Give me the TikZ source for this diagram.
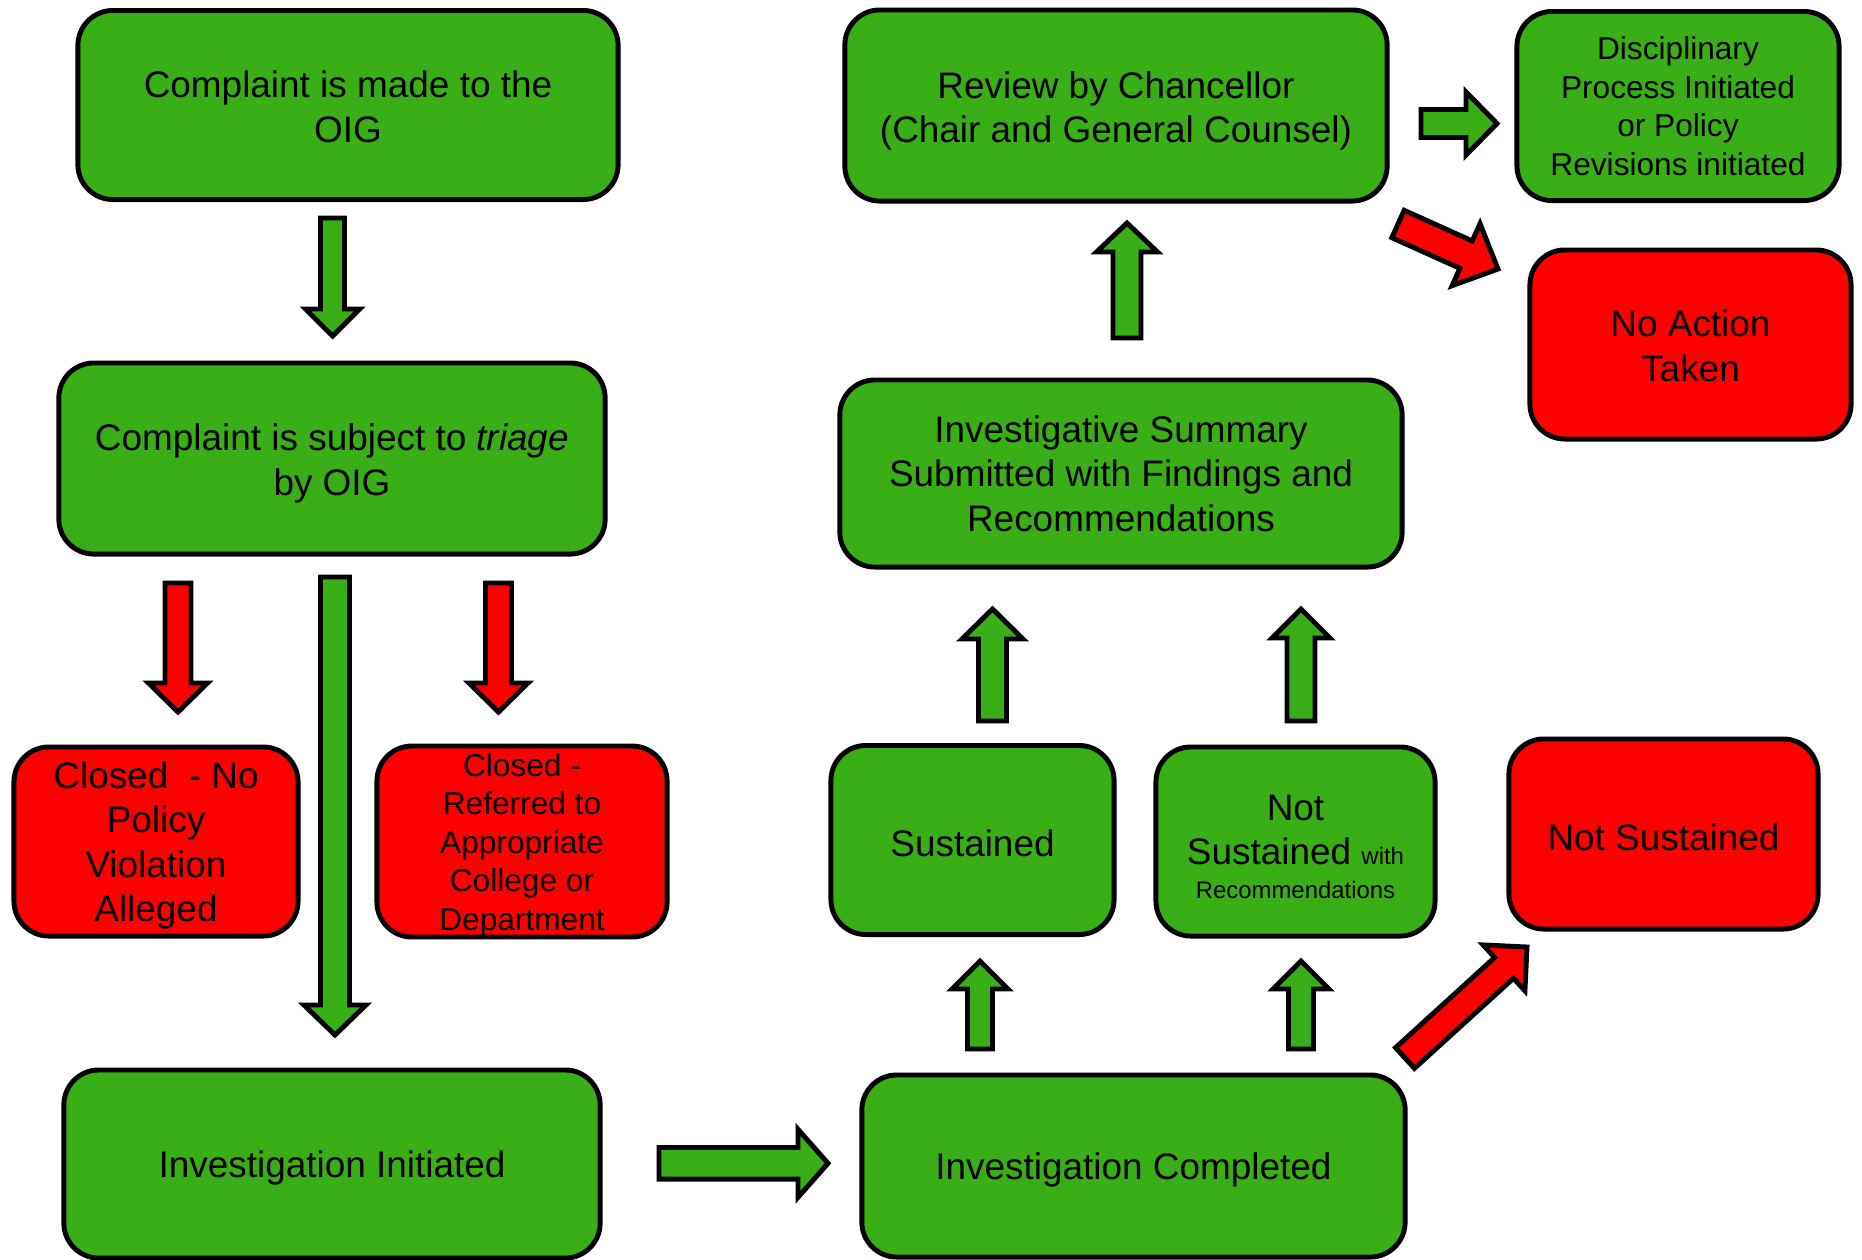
\documentclass[tikz,border=0pt]{standalone}
\usepackage{fontspec}
\setmainfont{Liberation Sans}
\usetikzlibrary{calc}
\definecolor{ogreen}{RGB}{58,174,22}
\definecolor{ored}{RGB}{255,0,0}
\newcommand\fm{\fontsize{10.5pt}{12.66pt}\selectfont}
\newcommand\fsm{\fontsize{9pt}{10.96pt}\selectfont}
\newcommand\ftn{\fontsize{6.8pt}{8.2pt}\selectfont}
\newcommand\topstrut[1]{\rule{0pt}{#1}}
% #1 style, #2 tail, #3 tip, #4 half shaft, #5 half head, #6 head length
\newcommand\blockarrow[6]{%
  \coordinate (hb) at ($(#3)!#6!(#2)$);
  \draw[#1] ($(#2)!#4!90:(#3)$) -- ($(hb)!#4!90:(#3)$) -- ($(hb)!#5!90:(#3)$) -- (#3)
    -- ($(hb)!#5!-90:(#3)$) -- ($(hb)!#4!-90:(#3)$) -- ($(#2)!#4!-90:(#3)$) -- cycle;
}
\tikzset{
  box/.style={draw=black, line width=1.4pt, rounded corners=0.35cm, align=center, inner sep=0pt, font=\fm,
    execute at begin node={\rule{0pt}{0.92em}}},
  gbox/.style={box, fill=ogreen},
  rbox/.style={box, fill=ored},
  garrow/.style={draw=black, fill=ogreen, line width=1.4pt},
  rarrow/.style={draw=black, fill=ored, line width=1.4pt},
}
\begin{document}
\begin{tikzpicture}[x=0.01cm, y=-0.01cm]
\useasboundingbox (0,0) rectangle (1862,1259);

\node[gbox, minimum width=5.40cm, minimum height=1.89cm] (n1) at (348,105) {\topstrut{8.7pt}Complaint is made to the\\OIG};
\node[gbox, minimum width=5.46cm, minimum height=1.91cm] (n2) at (332,458.5) {\topstrut{10.35pt}Complaint is subject to \textit{triage}\\by OIG};
\node[rbox, minimum width=2.84cm, minimum height=1.89cm] (r1) at (156,841.5) {\topstrut{9.8pt}Closed \ - No\\Policy\\Violation\\Alleged};
\node[rbox, minimum width=2.90cm, minimum height=1.89cm, font=\fsm] (r2) at (522,841.5) {\topstrut{8.6pt}Closed -\\Referred to\\Appropriate\\College or\\Department};
\node[gbox, minimum width=5.36cm, minimum height=1.88cm] (n3) at (332,1164) {Investigation Initiated};
\node[gbox, minimum width=5.43cm, minimum height=1.82cm] (n4) at (1133.5,1166) {Investigation Completed};
\node[gbox, minimum width=2.83cm, minimum height=1.89cm] (s1) at (972.5,840) {Sustained};
\node[gbox, minimum width=2.79cm, minimum height=1.89cm] (s2) at (1295.5,841.5) {\topstrut{10.2pt}Not\\Sustained {\ftn with}\\[-3pt]{\ftn Recommendations}};
\node[rbox, minimum width=3.09cm, minimum height=1.90cm] (r3) at (1663.5,834) {Not Sustained};
\node[gbox, minimum width=5.62cm, minimum height=1.87cm] (n5) at (1121,473.5) {Investigative Summary\\Submitted with Findings and\\Recommendations};
\node[gbox, minimum width=5.42cm, minimum height=1.91cm] (n6) at (1116,105.5) {\topstrut{10.7pt}Review by Chancellor\\(Chair and General Counsel)};
\node[gbox, minimum width=3.22cm, minimum height=1.89cm, font=\fsm] (n7) at (1678,106) {Disciplinary\\Process Initiated\\or Policy\\Revisions initiated};
\node[rbox, minimum width=3.21cm, minimum height=1.89cm] (r4) at (1690.5,344.5) {\topstrut{8.2pt}No Action\\Taken};

% arrow end points
\coordinate (a1t) at (332.5,218);  \coordinate (a1h) at (332.5,336);
\coordinate (a2t) at (178,583);    \coordinate (a2h) at (178,712);
\coordinate (a3t) at (335,577);    \coordinate (a3h) at (335,1035);
\coordinate (a4t) at (498.5,583);  \coordinate (a4h) at (498.5,712);
\coordinate (a5t) at (659,1163.3); \coordinate (a5h) at (828,1163.3);
\coordinate (a6t) at (980,1049);   \coordinate (a6h) at (980,961);
\coordinate (a7t) at (1301,1049);  \coordinate (a7h) at (1301,961);
\coordinate (a8t) at (992.5,721);  \coordinate (a8h) at (992.5,609);
\coordinate (a9t) at (1301,721);   \coordinate (a9h) at (1301,609);
\coordinate (a10t) at (1127,338);  \coordinate (a10h) at (1127,223);
\coordinate (a11t) at (1421,123.5);\coordinate (a11h) at (1497,123.5);
\coordinate (a12t) at (1398,224);  \coordinate (a12h) at (1498,269);
\coordinate (a13t) at (1405,1058); \coordinate (a13h) at (1527,947);

\blockarrow{garrow}{a1t}{a1h}{0.12cm}{0.27cm}{0.27cm}
\blockarrow{rarrow}{a2t}{a2h}{0.13cm}{0.295cm}{0.29cm}
\blockarrow{garrow}{a3t}{a3h}{0.145cm}{0.31cm}{0.30cm}
\blockarrow{rarrow}{a4t}{a4h}{0.13cm}{0.295cm}{0.29cm}
\blockarrow{garrow}{a5t}{a5h}{0.158cm}{0.34cm}{0.30cm}
\blockarrow{garrow}{a6t}{a6h}{0.125cm}{0.28cm}{0.28cm}
\blockarrow{garrow}{a7t}{a7h}{0.125cm}{0.28cm}{0.28cm}
\blockarrow{garrow}{a8t}{a8h}{0.14cm}{0.305cm}{0.30cm}
\blockarrow{garrow}{a9t}{a9h}{0.14cm}{0.29cm}{0.29cm}
\blockarrow{garrow}{a10t}{a10h}{0.14cm}{0.305cm}{0.29cm}
\blockarrow{garrow}{a11t}{a11h}{0.14cm}{0.315cm}{0.31cm}
\blockarrow{rarrow}{a12t}{a12h}{0.15cm}{0.34cm}{0.35cm}
\blockarrow{rarrow}{a13t}{a13h}{0.14cm}{0.31cm}{0.31cm}
\end{tikzpicture}
\end{document}
